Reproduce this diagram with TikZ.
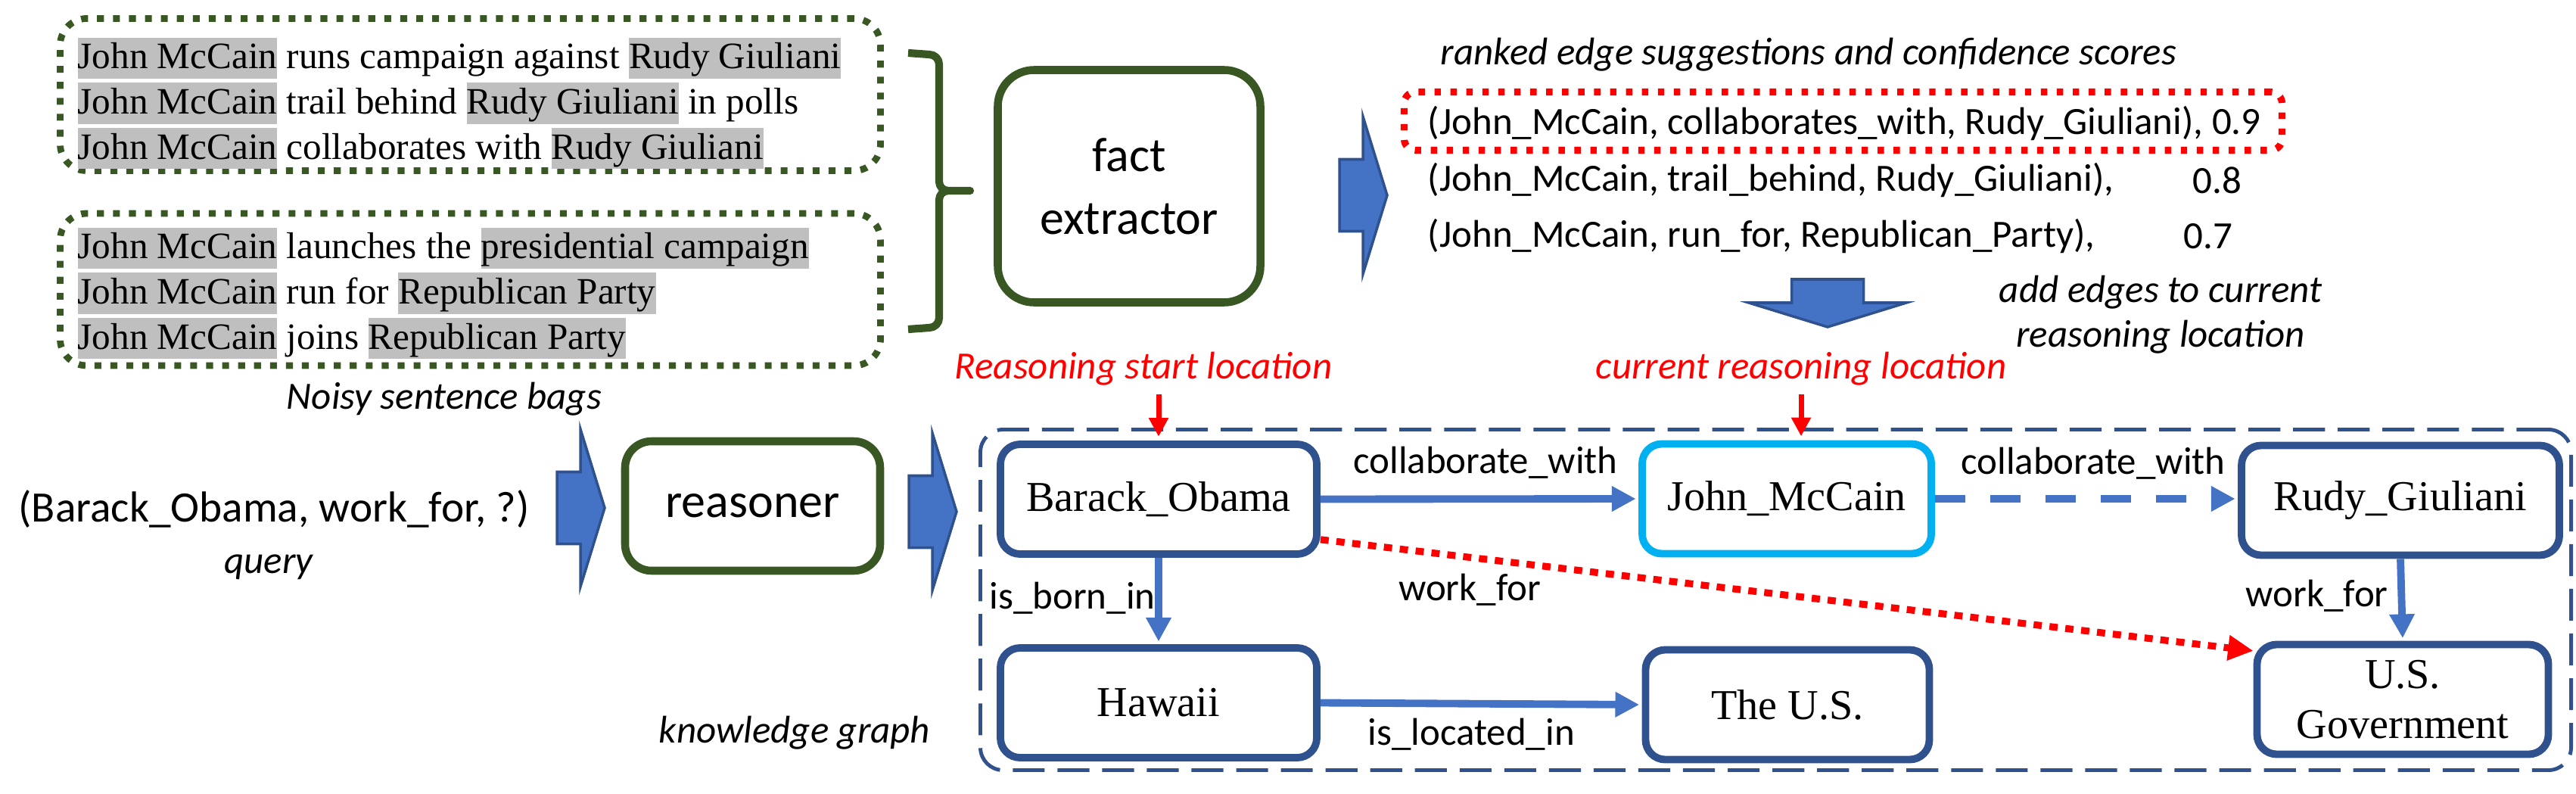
\documentclass[tikz,border=0pt]{standalone}
\usepackage{fontspec}
\setmainfont{Carlito}
\newfontfamily\tnr{Liberation Serif}
\usepackage{xcolor}
\usetikzlibrary{arrows.meta}
\definecolor{bagGreen}{HTML}{385723}
\definecolor{hlGray}{HTML}{BFBFBF}
\definecolor{kgBlue}{HTML}{2F528F}
\definecolor{edgeBlue}{HTML}{4472C4}
\definecolor{curBlue}{HTML}{00B0F0}
\newcommand{\ent}[1]{{\setlength{\fboxsep}{0pt}\colorbox{hlGray}{\rule[-3.7pt]{0pt}{15.4pt}#1}}}
\newcommand{\blockarrow}[3]{%
  \begin{scope}[shift={(#1,#2)}, rotate=#3]
    \filldraw[fill=edgeBlue, draw=kgBlue, line width=1pt] (0,0.475) -- (0.31,0.475) -- (0.31,1.04) -- (0.63,0) -- (0.31,-1.04) -- (0.31,-0.475) -- (0,-0.475) -- cycle;
  \end{scope}}

\begin{document}
\begin{tikzpicture}[every node/.style={font=\fontsize{14.5}{17.4}\selectfont},
  bag/.style={draw=bagGreen, line width=2.5pt, dash pattern=on 2.6pt off 3.4pt, rounded corners=0.35cm, minimum width=10.84cm, minimum height=2.01cm, inner sep=0pt},
  module/.style={draw=bagGreen, line width=3pt, inner sep=0pt, align=center, font=\fontsize{18.2}{23.6}\selectfont},
  entity/.style={draw=kgBlue, line width=2.8pt, rounded corners=0.26cm, minimum height=1.45cm, inner sep=0pt, align=center, font=\tnr\fontsize{16}{18.8}\selectfont},
  note/.style={font=\itshape\fontsize{14.5}{16.8}\selectfont, align=center},
  redNote/.style={note, text=red},
  rel/.style={draw=edgeBlue, line width=2.8pt, -{Triangle[length=9pt,width=9pt]}, shorten >=1pt},
  locArrow/.style={draw=red, line width=2pt, -{Triangle[length=7pt,width=7pt]}, shorten >=1.5pt}]
\useasboundingbox (0,0) rectangle (34.04,-10.48);

% Sentence bags
\node[bag] (bagA) at (6.215,-1.25) {};
\node[bag] (bagB) at (6.215,-3.825) {};
\node[anchor=north west, inner sep=0pt, align=left, font=\tnr\fontsize{14}{17}\selectfont] (sentA) at (1.02,-0.49)
  {\ent{John McCain} runs campaign against \ent{Rudy Giuliani}\\
   \ent{John McCain} trail behind \ent{Rudy Giuliani} in polls\\
   \ent{John McCain} collaborates with \ent{Rudy Giuliani}};
\node[anchor=north west, inner sep=0pt, align=left, font=\tnr\fontsize{14}{17}\selectfont] (sentB) at (1.02,-3.00)
  {\ent{John McCain} launches the \ent{presidential campaign}\\
   \ent{John McCain} run for \ent{Republican Party}\\
   \ent{John McCain} joins \ent{Republican Party}};
\node[note] (bagsLbl) at (5.87,-5.27) {Noisy sentence bags};
\draw[bagGreen, line width=2.9pt, line join=round] (12.00,-0.70) -- (12.28,-0.72) to[out=0,in=90] (12.41,-0.85) -- (12.41,-2.40) to[out=-90,in=180] (12.53,-2.52) -- (12.82,-2.52) -- (12.53,-2.52) to[out=180,in=90] (12.41,-2.64) -- (12.41,-4.20) to[out=-90,in=0] (12.28,-4.33) -- (12.00,-4.35);

% Fact extractor and suggestions
\node[module, rounded corners=0.48cm, minimum width=3.47cm, minimum height=3.07cm] (extractor) at (14.92,-2.46) {fact\\extractor};
\blockarrow{17.70}{-2.58}{0}
\node[note] (rankLbl) at (23.90,-0.72) {ranked edge suggestions and confidence scores};
\node[draw=red, line width=2.6pt, dash pattern=on 2.4pt off 3.6pt, rounded corners=0.15cm, minimum width=11.60cm, minimum height=0.77cm, inner sep=0pt] (topPick) at (24.355,-1.60) {};
\node[anchor=west, inner sep=0pt] (edge1) at (18.86,-1.63) {(John\_McCain, collaborates\_with, Rudy\_Giuliani), 0.9};
\node[anchor=west, inner sep=0pt] (edge2) at (18.86,-2.38) {(John\_McCain, trail\_behind, Rudy\_Giuliani),};
\node[anchor=west, inner sep=0pt] (score2) at (28.97,-2.38) {0.8};
\node[anchor=west, inner sep=0pt] (edge3) at (18.86,-3.12) {(John\_McCain, run\_for, Republican\_Party),};
\node[anchor=west, inner sep=0pt] (score3) at (28.85,-3.12) {0.7};
\blockarrow{24.15}{-3.69}{-90}
\node[note] (addLbl) at (28.55,-4.155) {add edges to current\\reasoning location};

% Query and reasoner
\node[font=\fontsize{16.3}{19}\selectfont] (query) at (3.62,-6.73) {(Barack\_Obama, work\_for, ?)};
\node[note] (queryLbl) at (3.55,-7.49) {query};
\blockarrow{7.36}{-6.71}{0}
\node[module, rounded corners=0.35cm, minimum width=3.37cm, minimum height=1.71cm] (reasoner) at (9.945,-6.685) {reasoner};
\blockarrow{12.01}{-6.76}{0}

% Knowledge graph
\node[draw=kgBlue, line width=1.4pt, dash pattern=on 12pt off 4.8pt, rounded corners=0.3cm, minimum width=21.02cm, minimum height=4.50cm, inner sep=0pt] (kg) at (23.465,-7.925) {};
\node[note] (kgLbl) at (10.50,-9.68) {knowledge graph};
\node[entity, minimum width=4.18cm] (obama) at (15.31,-6.595) {Barack\_Obama};
\node[entity, minimum width=3.82cm, draw=curBlue] (mccain) at (23.61,-6.59) {John\_McCain};
\node[entity, minimum width=4.20cm] (giuliani) at (31.72,-6.61) {Rudy\_Giuliani};
\node[entity, minimum width=4.18cm] (hawaii) at (15.31,-9.285) {Hawaii};
\node[entity, minimum width=3.75cm] (theus) at (23.62,-9.31) {The U.S.};
\node[entity, minimum width=3.85cm] (gov) at (31.75,-9.24) {U.S.\\Government};

\node[redNote] (startLbl) at (15.11,-4.87) {Reasoning start location};
\node[redNote] (curLbl) at (23.80,-4.87) {current reasoning location};
\draw[locArrow] (startLbl.south -| obama.north) -- (obama.north);
\draw[locArrow] (curLbl.south) -- (curLbl.south |- mccain.north);

\draw[rel] (obama.east) -- node[xshift=0.08cm, yshift=0.48cm] (lblCollabA) {collaborate\_with} (mccain.west);
\draw[rel, dash pattern=on 11.4pt off 9.4pt] (mccain.east) -- node[xshift=0.09cm, yshift=0.47cm] (lblCollabB) {collaborate\_with} (mccain.east -| giuliani.west);
\draw[rel] (obama.south) -- node[xshift=-1.14cm, yshift=0.04cm] (lblBorn) {is\_born\_in} (hawaii.north);
\draw[rel] (hawaii.east) -- node[xshift=-0.13cm, yshift=-0.40cm] (lblLoc) {is\_located\_in} (theus.west);
\draw[rel] (giuliani.south) -- node[xshift=-1.12cm, yshift=0.05cm] (lblWork) {work\_for} (gov.north);
\draw[draw=red, line width=2.6pt, dash pattern=on 3.1pt off 2.9pt, -{Triangle[length=9.5pt,width=9pt]}] (obama.-14.5) -- node[pos=0.16, yshift=-0.43cm] (lblInfer) {work\_for} (gov.162);
\end{tikzpicture}
\end{document}
